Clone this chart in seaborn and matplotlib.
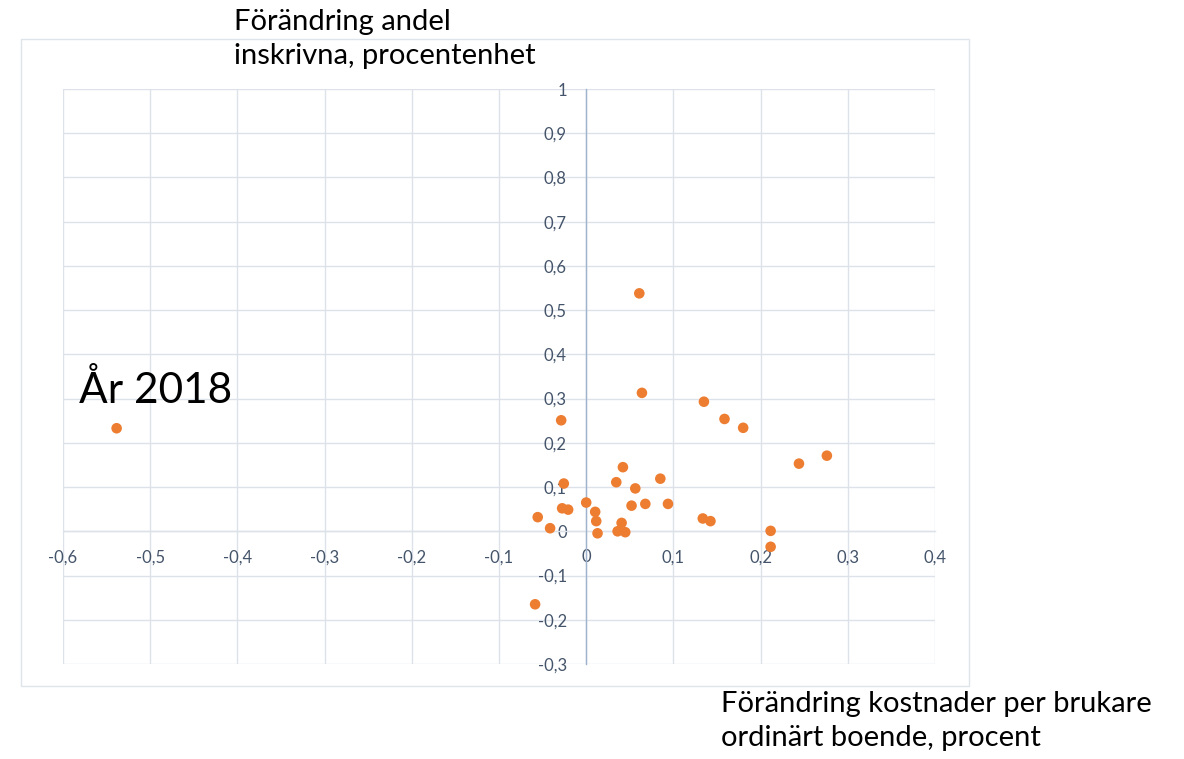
import numpy as np
import pandas as pd
import matplotlib
matplotlib.use("Agg")
import matplotlib.pyplot as plt
from matplotlib.patches import Rectangle
from matplotlib.ticker import FuncFormatter
import seaborn as sns

# Change in cost per user (ordinary housing), percent
kostnad = [
    -0.5385, -0.0586, -0.0287, -0.0276, -0.0257, -0.0207, -0.0556, -0.0414,
    0.0000, 0.0103, 0.0115, 0.0130, 0.0345, 0.0360, 0.0406, 0.0421,
    0.0448, 0.0520, 0.0563, 0.0609, 0.0639, 0.0678, 0.0850, 0.0938,
    0.1337, 0.1350, 0.1425, 0.1586, 0.1800, 0.2115, 0.2115, 0.2440,
    0.2760,
]
# Change in share enrolled, percentage points
andel = [
    0.233, -0.165, 0.251, 0.052, 0.108, 0.049, 0.032, 0.007,
    0.065, 0.044, 0.023, -0.0045, 0.111, 0.000, 0.019, 0.145,
    -0.002, 0.058, 0.097, 0.538, 0.313, 0.062, 0.119, 0.062,
    0.029, 0.293, 0.023, 0.254, 0.234, 0.001, -0.035, 0.153,
    0.171,
]

x_ticks = [-0.6, -0.5, -0.4, -0.3, -0.2, -0.1, 0.0, 0.1, 0.2, 0.3, 0.4]
y_ticks = [-0.3, -0.2, -0.1, 0.0, 0.1, 0.2, 0.3, 0.4, 0.5, 0.6, 0.7, 0.8, 0.9, 1.0]

df = pd.DataFrame({"kostnad": kostnad, "andel": andel})

sns.set_theme(style="white")
plt.rcParams["font.family"] = ["Lato", "DejaVu Sans"]

W, H = 1184, 759
fig = plt.figure(figsize=(W / 100, H / 100), dpi=100)
fig.patch.set_facecolor("white")

# outer chart frame
fig.patches.append(Rectangle((21 / W, 1 - 686 / H), (969 - 21) / W, (686 - 39) / H,
                             transform=fig.transFigure, fill=False,
                             edgecolor="#dfe3ea", linewidth=1.0))

ax = fig.add_axes([63 / W, 1 - 664 / H, (935 - 63) / W, (664 - 89) / H])
ax.set_facecolor("white")

grid_col = "#dde2ea"
tick_col = "#44546A"

sns.scatterplot(data=df, x="kostnad", y="andel", ax=ax, color="#ED7D31",
                s=58, edgecolor="none", zorder=5, clip_on=False)

ax.set_xlim(x_ticks[0], x_ticks[-1])
ax.set_ylim(y_ticks[0], y_ticks[-1])
ax.set_xticks(x_ticks)
ax.set_yticks(y_ticks)

fmt = FuncFormatter(lambda v, p: ("%g" % round(v, 2)).replace(".", ","))
ax.xaxis.set_major_formatter(fmt)
ax.yaxis.set_major_formatter(fmt)

ax.grid(True, color=grid_col, linewidth=1.0, zorder=0)
ax.set_axisbelow(True)

for side in ["top", "right"]:
    ax.spines[side].set_visible(False)
ax.spines["left"].set_position(("data", 0))
ax.spines["left"].set_color("#9fb3cf")
ax.spines["left"].set_linewidth(1.0)
ax.spines["left"].set_zorder(3)
ax.spines["bottom"].set_position(("data", 0))
ax.spines["bottom"].set_color(grid_col)
ax.spines["bottom"].set_linewidth(1.0)

ax.tick_params(axis="both", length=0, labelsize=12, labelcolor=tick_col)
ax.tick_params(axis="x", pad=13)
ax.tick_params(axis="y", pad=14)
ax.set_xlabel("")
ax.set_ylabel("")

fig.text(234 / W, 1 - 9 / H, "Förändring andel\ninskrivna, procentenhet",
         ha="left", va="top", fontsize=21, color="black", linespacing=1.4)
fig.text(721 / W, 1 - 691 / H, "Förändring kostnader per brukare\nordinärt boende, procent",
         ha="left", va="top", fontsize=21, color="black", linespacing=1.4)
ax.text(-0.5812, 0.29, "År 2018", ha="left", va="baseline", fontsize=30.5, color="black")

fig.savefig("out.png", dpi=100, facecolor="white")
